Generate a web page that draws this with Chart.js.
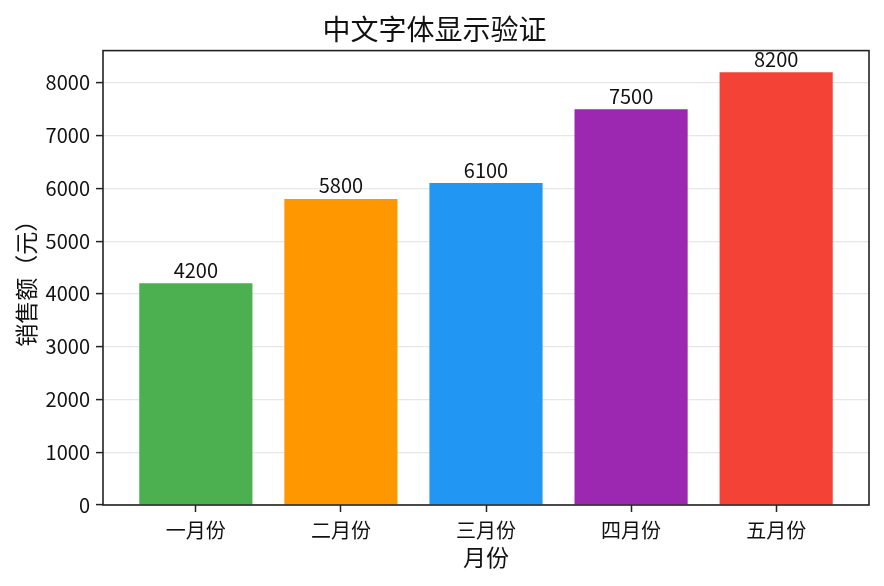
<!DOCTYPE html>
<html>
<head>
<meta charset="utf-8">
<script src="https://cdn.jsdelivr.net/npm/chart.js@4/dist/chart.umd.min.js"></script>
<style>
  html, body { margin: 0; padding: 0; background: #fff; }
  #wrap { width: 884px; height: 586px; }
</style>
</head>
<body>
<div id="wrap"><canvas id="salesChart"></canvas></div>
<script>
// ----------------- Data -----------------
const months = ['一月份', '二月份', '三月份', '四月份', '五月份'];
const sales = [4200, 5800, 6100, 7500, 8200];
const barColors = ['#4CAF50', '#FF9800', '#2196F3', '#9C27B0', '#F44336'];
const yTicks = [0, 1000, 2000, 3000, 4000, 5000, 6000, 7000, 8000];

const FONT = '"Noto Sans CJK SC", "Noto Sans", sans-serif';
const INK = '#111';

// value labels above the bars
const barLabels = {
  id: 'barLabels',
  afterDatasetsDraw(chart) {
    const { ctx } = chart;
    const meta = chart.getDatasetMeta(0);
    ctx.save();
    ctx.font = `20px ${FONT}`;
    ctx.fillStyle = INK;
    ctx.textAlign = 'center';
    ctx.textBaseline = 'bottom';
    meta.data.forEach((bar, i) => {
      ctx.fillText(String(sales[i]), bar.x, bar.y - 3);
    });
    ctx.restore();
  }
};

// box around the plot area (all four spines)
const frame = {
  id: 'frame',
  afterDraw(chart) {
    const { ctx, chartArea: a } = chart;
    ctx.save();
    ctx.strokeStyle = '#222';
    ctx.lineWidth = 1.6;
    ctx.strokeRect(a.left, a.top, a.right - a.left, a.bottom - a.top);
    ctx.restore();
  }
};

new Chart(document.getElementById('salesChart'), {
  type: 'bar',
  data: {
    datasets: [{
      data: sales.map((v, i) => ({ x: i, y: v })),
      backgroundColor: barColors,
      categoryPercentage: 0.78,
      barPercentage: 1.0,
      borderWidth: 0
    }]
  },
  options: {
    responsive: true,
    maintainAspectRatio: false,
    animation: false,
    layout: { padding: { top: 0, right: 15, bottom: 0, left: 0 } },
    plugins: {
      legend: { display: false },
      tooltip: { enabled: false },
      title: {
        display: true,
        text: '中文字体显示验证',
        color: INK,
        font: { family: FONT, size: 28, weight: 'normal' },
        padding: { top: 13, bottom: 4 }
      }
    },
    scales: {
      x: {
        type: 'linear',
        min: -0.64,
        max: months.length - 1 + 0.64,
        offset: false,
        afterBuildTicks: axis => { axis.ticks = months.map((m, i) => ({ value: i })); },
        afterFit: scale => { scale.height = 81; },
        ticks: {
          color: INK,
          font: { family: FONT, size: 20 },
          padding: 6,
          maxRotation: 0,
          callback: v => months[v]
        },
        grid: {
          offset: false,
          drawOnChartArea: false,
          drawTicks: true,
          tickLength: 7,
          tickColor: '#222',
          tickWidth: 1.5
        },
        border: { display: false },
        title: {
          display: true,
          text: '月份',
          color: INK,
          font: { family: FONT, size: 23 },
          padding: { top: 0, bottom: 15 }
        }
      },
      y: {
        min: 0,
        max: 8610,
        z: 1,
        afterBuildTicks: axis => { axis.ticks = yTicks.map(v => ({ value: v })); },
        afterFit: scale => { scale.width = 103; },
        ticks: {
          color: INK,
          font: { family: FONT, size: 20 },
          padding: 6,
          callback: v => String(v)
        },
        grid: {
          color: 'rgba(176,176,176,0.3)',
          lineWidth: 1.2,
          tickLength: 7,
          tickColor: '#222',
          tickWidth: 1.5
        },
        border: { display: false },
        title: {
          display: true,
          text: '销售额（元）',
          color: INK,
          font: { family: FONT, size: 23 },
          padding: { top: 12, bottom: 0 }
        }
      }
    }
  },
  plugins: [barLabels, frame]
});
</script>
</body>
</html>
